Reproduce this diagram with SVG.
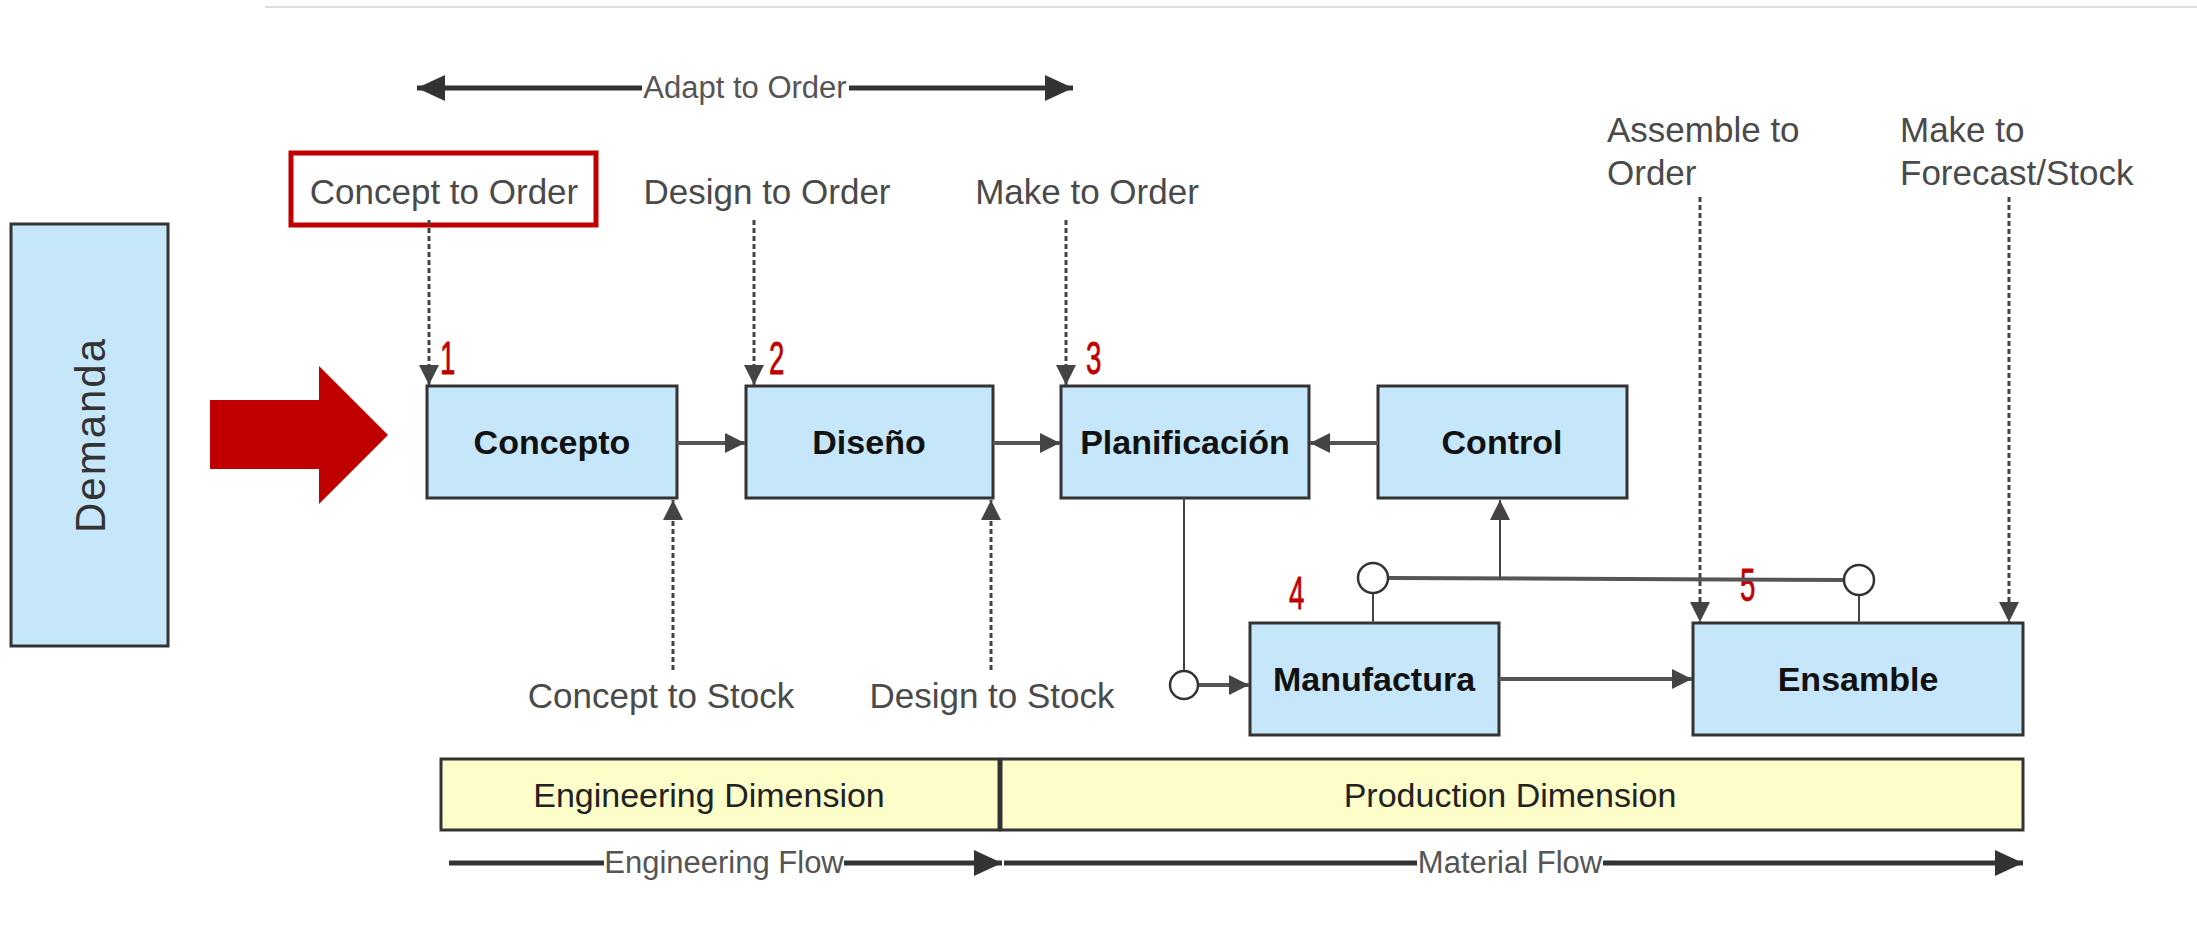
<svg xmlns="http://www.w3.org/2000/svg" width="2197" height="925" viewBox="0 0 2197 925">
<style>
.box{fill:#C6E6FA;stroke:#333;stroke-width:3}
.bar{fill:#FDFDC9;stroke:#333;stroke-width:3}
.bl{font-family:"Liberation Sans",Arial,sans-serif;font-weight:bold;font-size:34px;fill:#111;text-anchor:middle}
.lbl{font-family:"Liberation Sans",Arial,sans-serif;font-size:35px;fill:#4a4a4a}
.flow{font-family:"Liberation Sans",Arial,sans-serif;font-size:31px;fill:#555;text-anchor:middle}
.dim{font-family:"Liberation Sans",Arial,sans-serif;font-size:34px;fill:#222;text-anchor:middle}
.num{font-family:"Liberation Sans",Arial,sans-serif;font-size:46px;fill:#C00000;stroke:#C00000;stroke-width:0.8}
.dash{stroke:#444;stroke-width:3;stroke-dasharray:5 3;fill:none}
.thin{stroke:#444;stroke-width:2;fill:none}
.conn{stroke:#555;stroke-width:4;fill:none}
.thick{stroke:#333;stroke-width:5;fill:none}
.node{fill:#fff;stroke:#333;stroke-width:2.5}
</style>
<defs>
<marker id="a" markerUnits="userSpaceOnUse" markerWidth="20" markerHeight="20" refX="20" refY="10" orient="auto-start-reverse"><path d="M0,0L20,10L0,20z" fill="#444"/></marker>
<marker id="b" markerUnits="userSpaceOnUse" markerWidth="28" markerHeight="26" refX="28" refY="13" orient="auto-start-reverse"><path d="M0,0L28,13L0,26z" fill="#333"/></marker>
</defs>
<line x1="265" y1="7" x2="2197" y2="7" stroke="#ddd" stroke-width="2"/>
<g id="demanda"><rect x="11" y="224" width="157" height="422" class="box" stroke-width="2.5"/><text transform="translate(105,435) rotate(-90)" font-family="Liberation Sans,Arial,sans-serif" font-size="42" fill="#333" text-anchor="middle" letter-spacing="2">Demanda</text></g>
<g id="red-arrow"><path d="M210,400H319V366L388,435L319,504V469H210z" fill="#C00000"/></g>
<g id="adapt"><text x="745" y="98" class="flow" font-size="30">Adapt to Order</text></g>
<g id="cto"><rect x="291" y="153" width="305" height="72" fill="none" stroke="#C00000" stroke-width="5"/><text x="444" y="204" class="lbl" text-anchor="middle">Concept to Order</text></g>
<g id="dto"><text x="767" y="204" class="lbl" text-anchor="middle">Design to Order</text></g>
<g id="mto"><text x="1087" y="204" class="lbl" text-anchor="middle">Make to Order</text></g>
<g id="ato"><text x="1607" y="142" class="lbl">Assemble to</text><text x="1607" y="185" class="lbl">Order</text></g>
<g id="mtf"><text x="1900" y="142" class="lbl">Make to</text><text x="1900" y="185" class="lbl">Forecast/Stock</text></g>
<g id="cts"><text x="661" y="708" class="lbl" text-anchor="middle">Concept to Stock</text></g>
<g id="dts"><text x="992" y="708" class="lbl" text-anchor="middle">Design to Stock</text></g>
<g id="concepto"><rect x="427" y="386" width="250" height="112" class="box"/><text x="552" y="454" class="bl">Concepto</text></g>
<g id="diseno"><rect x="746" y="386" width="247" height="112" class="box"/><text x="869" y="454" class="bl">Diseño</text></g>
<g id="planificacion"><rect x="1061" y="386" width="248" height="112" class="box"/><text x="1185" y="454" class="bl">Planificación</text></g>
<g id="control"><rect x="1378" y="386" width="249" height="112" class="box"/><text x="1502" y="454" class="bl">Control</text></g>
<g id="manufactura"><rect x="1250" y="623" width="249" height="112" class="box"/><text x="1374" y="691" class="bl">Manufactura</text></g>
<g id="ensamble"><rect x="1693" y="623" width="330" height="112" class="box"/><text x="1858" y="691" class="bl">Ensamble</text></g>
<g id="eng-dim"><rect x="441" y="759" width="558" height="71" class="bar"/><text x="709" y="807" class="dim">Engineering Dimension</text></g>
<g id="prod-dim"><rect x="1001" y="759" width="1022" height="71" class="bar"/><text x="1510" y="807" class="dim">Production Dimension</text></g>
<g id="eng-flow"><text x="724" y="873" class="flow">Engineering Flow</text></g>
<g id="mat-flow"><text x="1510" y="873" class="flow">Material Flow</text></g>
<g id="numbers">
<text class="num" transform="translate(440,374) scale(0.6,1)">1</text>
<text class="num" transform="translate(769,374) scale(0.6,1)">2</text>
<text class="num" transform="translate(1086,374) scale(0.6,1)">3</text>
<text class="num" transform="translate(1289,609) scale(0.6,1)">4</text>
<text class="num" transform="translate(1740,601) scale(0.6,1)">5</text>
</g>
<g id="connectors">
<path d="M417,88H642" class="thick" marker-start="url(#b)"/>
<path d="M849,88H1073" class="thick" marker-end="url(#b)"/>
<path d="M449,863H604" class="thick"/>
<path d="M844,863H1002" class="thick" marker-end="url(#b)"/>
<path d="M1004,863H1417" class="thick"/>
<path d="M1603,863H2023" class="thick" marker-end="url(#b)"/>
<path d="M429,220V385" class="dash" marker-end="url(#a)"/>
<path d="M754,220V385" class="dash" marker-end="url(#a)"/>
<path d="M1066,220V385" class="dash" marker-end="url(#a)"/>
<path d="M1700,197V622" class="dash" marker-end="url(#a)"/>
<path d="M2009,197V622" class="dash" marker-end="url(#a)"/>
<path d="M673,670V500" class="dash" marker-end="url(#a)"/>
<path d="M991,670V500" class="dash" marker-end="url(#a)"/>
<path d="M677,443H745" class="conn" marker-end="url(#a)"/>
<path d="M993,443H1060" class="conn" marker-end="url(#a)"/>
<path d="M1378,443H1310" class="conn" marker-end="url(#a)"/>
<path d="M1499,679H1692" class="conn" marker-end="url(#a)"/>
<path d="M1184,498V671" class="thin"/>
<path d="M1198,685H1249" class="conn" marker-end="url(#a)"/>
<path d="M1388,578L1844,580" class="conn"/>
<path d="M1500,579V500" class="thin" marker-end="url(#a)"/>
<path d="M1373,593V623" class="thin"/>
<path d="M1859,595V623" class="thin"/>
<circle cx="1184" cy="685" r="14" class="node"/>
<circle cx="1373" cy="578" r="15" class="node"/>
<circle cx="1859" cy="580" r="15" class="node"/>
</g>
</svg>
